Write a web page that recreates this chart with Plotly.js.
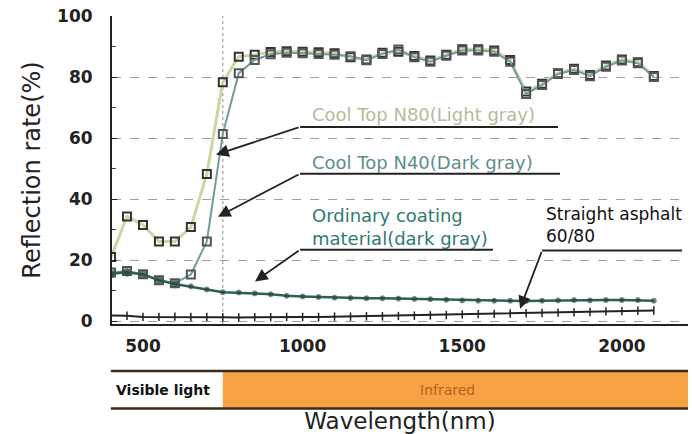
<!DOCTYPE html>
<html>
<head>
<meta charset="utf-8">
<script src="https://cdn.plot.ly/plotly-3.0.1.min.js"></script>
<style>html,body{margin:0;padding:0;background:#fff;}#chart{width:692px;height:434px;}</style>
</head>
<body>
<div id="chart"></div>
<script>
// ---- data ----
const wavelength = [400,450,500,550,600,650,700,750,800,850,900,950,1000,1050,1100,1150,1200,1250,1300,1350,1400,1450,1500,1550,1600,1650,1700,1750,1800,1850,1900,1950,2000,2050,2100];
const coolTopN80 = [21.1,34.4,31.6,26.2,26.2,30.9,48.3,78.3,86.7,87.3,88.2,88.5,88.3,88.1,87.8,86.5,85.8,88.0,88.3,86.9,85.4,87.3,89.1,89.1,88.7,85.6,75.3,77.8,81.3,82.7,80.7,83.8,85.8,84.9,80.4];
const coolTopN40 = [16.0,16.5,15.5,13.5,12.5,15.4,26.2,61.4,81.3,85.6,87.5,88.0,87.8,87.6,87.3,86.8,85.5,87.6,89.0,86.5,85.0,87.0,88.7,88.7,88.3,85.0,74.5,77.4,81.0,82.3,80.3,83.4,85.4,84.5,80.0];
const ordinaryCoating = [15.6,16.1,15.4,13.5,12.3,11.5,10.5,9.6,9.5,9.2,8.9,8.4,8.2,8.0,7.8,7.7,7.6,7.6,7.5,7.4,7.3,7.1,6.9,6.8,6.8,6.8,6.7,6.8,6.9,7.0,6.9,7.0,7.0,7.0,6.8];
const straightAsphalt = [2.0,1.9,1.5,1.5,1.6,1.5,1.5,1.4,1.3,1.4,1.4,1.5,1.5,1.5,1.6,1.6,1.7,1.7,1.8,1.9,2.0,2.1,2.3,2.4,2.5,2.6,2.7,2.8,2.9,3.0,3.1,3.3,3.4,3.5,3.6];
const seriesNames = ["Cool Top N80(Light gray)","Cool Top N40(Dark gray)","Ordinary coating<br>material(dark gray)","Straight asphalt<br>60/80"];
const yTicks = [0,20,40,60,80,100];
const xTicks = [500,1000,1500,2000];
const boundary = 750;          // visible / infrared boundary (nm)
const xRange = [403, 2207];
const yRange = [-0.82, 100];
const bandLabels = ["Visible light","Infrared"];

// ---- styles ----
const FONT = "DejaVu Sans, Arial, sans-serif";
const bigOrdinary = wavelength.map((w,i)=> i<5 ? 8 : 5);

const traces = [
  {x: wavelength, y: coolTopN80, name: seriesNames[0], mode: "lines+markers",
   line: {color: "#cbd7a2", width: 3},
   marker: {symbol: "square-open", size: 8, color: "#333", line: {width: 2, color: "#333"}}},
  {x: wavelength, y: coolTopN40, name: seriesNames[1], mode: "lines+markers",
   line: {color: "#6f9e9c", width: 2},
   marker: {symbol: "square-open", size: 8, color: "#555", line: {width: 2, color: "#555"}}},
  {x: wavelength, y: ordinaryCoating, name: seriesNames[2], mode: "lines+markers",
   line: {color: "#2e5f57", width: 2.5},
   marker: {symbol: "circle", size: bigOrdinary, color: "#2f3f3a"}},
  {x: wavelength, y: straightAsphalt, name: seriesNames[3], mode: "lines+markers",
   line: {color: "#222", width: 2},
   marker: {symbol: "line-ns-open", size: 6, color: "#222", line: {width: 1.5, color: "#222"}}}
];

// label geometry (data coords): [textX, textY, underlineX0, underlineX1, underlineY, tipX, tipY, color, fontSize]
const labelGeom = [
  [1023, 67.6, 992, 1800, 63.7, 729, 54.6, "#b7bb98", 18],
  [1023, 52.0, 992, 1806, 48.4, 735, 34.3, "#5e8e8c", 18],
  [1023, 30.8, 992, 1596, 23.5, 851, 13.1, "#2f7b72", 18],
  [1755, 31.6, 1750, 2188, 23.2, 1681, 4.2, "#111", 17]
];

const shapes = [
  {type: "line", xref: "x", yref: "paper", x0: boundary, x1: boundary, y0: 0, y1: 1,
   line: {color: "#a89a9a", width: 1.2, dash: "dot"}, layer: "below"},
  {type: "rect", xref: "x", yref: "paper", x0: boundary, x1: xRange[1], y0: -0.274, y1: -0.1524,
   fillcolor: "#f7a243", line: {width: 0}},
  {type: "line", xref: "paper", yref: "paper", x0: -0.002, x1: 1, y0: -0.1524, y1: -0.1524,
   line: {color: "#3a2b1e", width: 2.5}},
  {type: "line", xref: "paper", yref: "paper", x0: -0.002, x1: 1, y0: -0.274, y1: -0.274,
   line: {color: "#3a2b1e", width: 2.5}}
];
const annotations = [];
labelGeom.forEach((g,i)=>{
  shapes.push({type: "line", xref: "x", yref: "y", x0: g[2], x1: g[3], y0: g[4], y1: g[4],
    line: {color: "#222", width: 2}});
  annotations.push({x: g[5], y: g[6], ax: g[2], ay: g[4], xref: "x", yref: "y", axref: "x", ayref: "y",
    text: "", showarrow: true, arrowhead: 2, arrowsize: 1.4, arrowwidth: 1.8, arrowcolor: "#222"});
  annotations.push({x: g[0], y: g[1], xref: "x", yref: "y", text: seriesNames[i], showarrow: false,
    xanchor: "left", yanchor: "middle", align: "left",
    font: {family: FONT, size: g[8], color: g[7]}});
});
annotations.push({x: 0.004, y: -0.213, xref: "paper", yref: "paper", text: bandLabels[0], showarrow: false,
  xanchor: "left", yanchor: "middle", font: {family: FONT, size: 14, color: "#111", weight: "bold"}});
annotations.push({x: 1455, y: -0.213, xref: "x", yref: "paper", text: bandLabels[1], showarrow: false,
  xanchor: "center", yanchor: "middle", font: {family: FONT, size: 14, color: "#b5641c"}});

const layout = {
  width: 692, height: 434,
  margin: {l: 112, r: 4, t: 16, b: 109.5},
  paper_bgcolor: "#fff", plot_bgcolor: "#fff",
  showlegend: false,
  xaxis: {range: xRange, tickvals: xTicks, ticks: "", showgrid: false, zeroline: false,
    showline: true, linecolor: "#222", linewidth: 2,
    tickfont: {family: FONT, size: 17, color: "#222", weight: "bold"}, ticklabelstandoff: 6,
    title: {text: "Wavelength(nm)", font: {family: FONT, size: 23, color: "#222"}, standoff: 60}},
  yaxis: {range: yRange, tickvals: yTicks, ticks: "inside", ticklen: 5, tickcolor: "#222",
    minor: {dtick: 10, ticks: "inside", ticklen: 4, tickcolor: "#444", showgrid: false},
    showgrid: true, gridcolor: "#a0a0a0", griddash: "dash", gridwidth: 1, zeroline: false,
    showline: true, linecolor: "#222", linewidth: 2,
    tickfont: {family: FONT, size: 17, color: "#222", weight: "bold"}, ticklabelstandoff: 14,
    title: {text: "Reflection rate(%)", font: {family: FONT, size: 24, color: "#222"}, standoff: 10}},
  shapes: shapes,
  annotations: annotations
};

Plotly.newPlot("chart", traces, layout, {staticPlot: true});
</script>
</body>
</html>
